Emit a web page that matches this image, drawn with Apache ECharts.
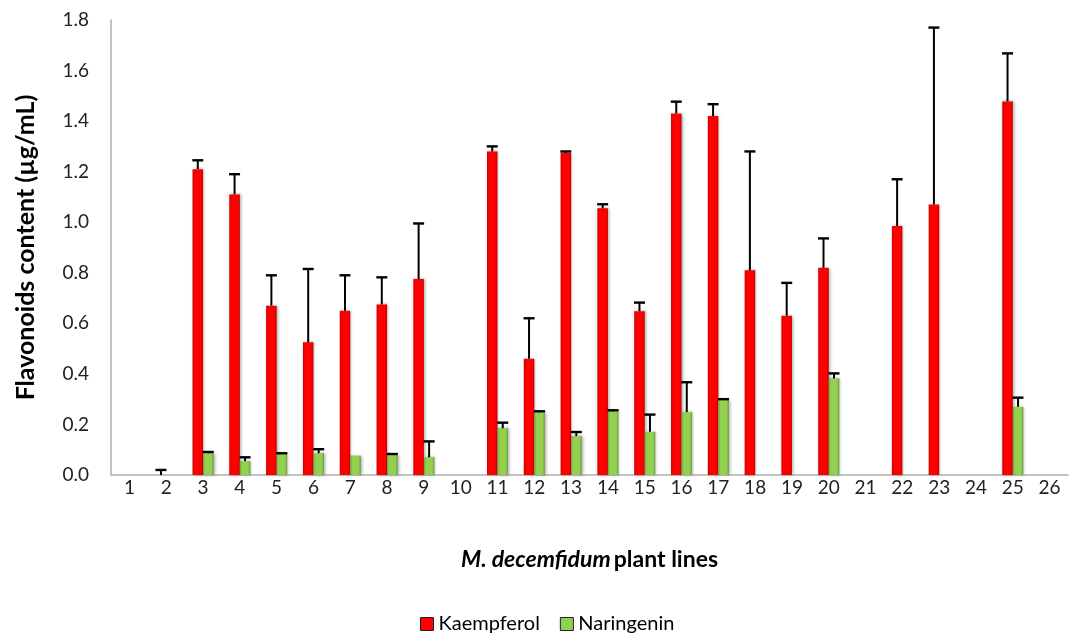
<!DOCTYPE html>
<html>
<head>
<meta charset="utf-8">
<script src="https://cdn.jsdelivr.net/npm/echarts@6/dist/echarts.min.js"></script>
<style>html,body{margin:0;padding:0;background:#fff;}#chart{width:1070px;height:635px;}</style>
</head>
<body>
<div id="chart"></div>
<script>
const categories = ['1','2','3','4','5','6','7','8','9','10','11','12','13','14','15','16','17','18','19','20','21','22','23','24','25','26'];
const yTicks = [0, 0.2, 0.4, 0.6, 0.8, 1.0, 1.2, 1.4, 1.6, 1.8];
const kaempferol = [null, 0, 1.21, 1.11, 0.67, 0.525, 0.65, 0.675, 0.775, null, 1.28, 0.46, 1.275, 1.055, 0.648, 1.43, 1.42, 0.81, 0.63, 0.82, null, 0.985, 1.07, null, 1.478, null];
const kaempferolErr = [null, 0.02, 0.035, 0.08, 0.12, 0.29, 0.14, 0.107, 0.22, null, 0.02, 0.16, 0.005, 0.016, 0.034, 0.047, 0.047, 0.47, 0.13, 0.116, null, 0.185, 0.70, null, 0.19, null];
const naringenin = [null, null, 0.086, 0.055, 0.083, 0.086, 0.077, 0.079, 0.07, null, 0.185, 0.248, 0.154, 0.252, 0.171, 0.249, 0.297, null, null, 0.382, null, null, null, null, 0.27, null];
const naringeninErr = [null, null, 0.005, 0.015, 0.003, 0.016, null, 0.004, 0.063, null, 0.022, 0.004, 0.016, 0.004, 0.068, 0.118, 0.003, null, null, 0.02, null, null, null, null, 0.036, null];

const FONT = 'Lato';
const BAR_W = 10.5;

function errData(vals, errs) {
  const out = [];
  vals.forEach((v, i) => { if (v != null && errs[i] != null) out.push([i, v, errs[i]]); });
  return out;
}
function errRender(offset) {
  return function (params, api) {
    const x = api.value(0), y = api.value(1), e = api.value(2);
    const p0 = api.coord([x, y]);
    const p1 = api.coord([x, y + e]);
    const cx = p0[0] + offset;
    const hw = 5.5;
    return {
      type: 'group',
      children: [
        { type: 'line', shape: { x1: cx, y1: p0[1], x2: cx, y2: p1[1] }, style: { stroke: '#000', lineWidth: 2 } },
        { type: 'line', shape: { x1: cx - hw, y1: p1[1], x2: cx + hw, y2: p1[1] }, style: { stroke: '#000', lineWidth: 2.4 } }
      ]
    };
  };
}
const redGrad = new echarts.graphic.LinearGradient(0, 0, 1, 0, [
  { offset: 0, color: '#c80000' }, { offset: 0.2, color: '#ff0000' }, { offset: 0.8, color: '#ff0000' }, { offset: 1, color: '#c00000' }
]);
const greenGrad = new echarts.graphic.LinearGradient(0, 0, 1, 0, [
  { offset: 0, color: '#6f9e3c' }, { offset: 0.2, color: '#92d050' }, { offset: 0.8, color: '#92d050' }, { offset: 1, color: '#6a983a' }
]);

const chart = echarts.init(document.getElementById('chart'), null, { renderer: 'canvas' });
chart.setOption({
  animation: false,
  backgroundColor: '#fff',
  textStyle: { fontFamily: FONT },
  grid: { left: 111, right: 2, top: 20, bottom: 160, containLabel: false },
  legend: {
    top: 609, left: 415,
    itemWidth: 13, itemHeight: 13, itemGap: 20,
    textStyle: { fontFamily: FONT, fontSize: 20, color: '#000' },
    data: [
      { name: 'Kaempferol', icon: 'rect', itemStyle: { color: '#ff0000', borderColor: '#222', borderWidth: 1 } },
      { name: 'Naringenin', icon: 'rect', itemStyle: { color: '#92d050', borderColor: '#222', borderWidth: 1 } }
    ]
  },
  xAxis: {
    type: 'category',
    data: categories,
    axisLine: { lineStyle: { color: '#b0b0b0', width: 1.5 } },
    axisTick: { show: false },
    axisLabel: { fontFamily: FONT, fontSize: 19, color: '#222', margin: 3 },
    name: '{i|M. decemfidum} {b|plant lines}',
    nameLocation: 'middle',
    nameGap: 73,
    nameTextStyle: {
      rich: {
        i: { fontFamily: FONT, fontSize: 23, fontWeight: 'bold', fontStyle: 'italic', color: '#000' },
        b: { fontFamily: FONT, fontSize: 23, fontWeight: 'bold', color: '#000' }
      }
    }
  },
  yAxis: {
    type: 'value',
    min: 0, max: 1.8, interval: 0.2,
    axisLine: { show: true, lineStyle: { color: '#b0b0b0', width: 1.5 } },
    axisTick: { show: false },
    splitLine: { show: false },
    axisLabel: {
      fontFamily: FONT, fontSize: 19, color: '#222', margin: 22,
      formatter: v => yTicks.includes(Math.round(v * 10) / 10) ? v.toFixed(1) : ''
    },
    name: 'Flavonoids content (µg/mL)',
    nameLocation: 'middle',
    nameGap: 73,
    nameTextStyle: { fontFamily: FONT, fontSize: 25, fontWeight: 'bold', color: '#000' }
  },
  series: [
    {
      name: 'Kaempferol', type: 'bar', data: kaempferol, barWidth: BAR_W, barGap: '0%',
      itemStyle: { color: redGrad, shadowBlur: 3, shadowColor: 'rgba(0,0,0,0.35)', shadowOffsetX: 1, shadowOffsetY: 0 }
    },
    {
      name: 'Naringenin', type: 'bar', data: naringenin, barWidth: BAR_W, barGap: '0%',
      itemStyle: { color: greenGrad, shadowBlur: 3, shadowColor: 'rgba(0,0,0,0.35)', shadowOffsetX: 1, shadowOffsetY: 0 }
    },
    {
      name: 'KErr', type: 'custom', renderItem: errRender(-BAR_W / 2), data: errData(kaempferol, kaempferolErr),
      z: 5, silent: true, encode: { x: 0, y: [1, 2] }
    },
    {
      name: 'NErr', type: 'custom', renderItem: errRender(BAR_W / 2), data: errData(naringenin, naringeninErr),
      z: 5, silent: true, encode: { x: 0, y: [1, 2] }
    }
  ]
});
</script>
</body>
</html>
